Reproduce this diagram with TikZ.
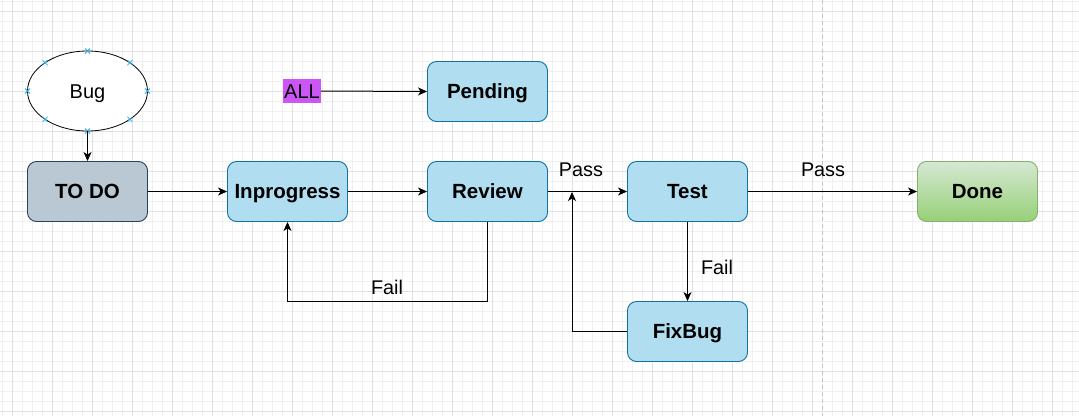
\documentclass[tikz,border=0pt]{standalone}
\usepackage{fontspec}
\setmainfont{Liberation Sans}
\usetikzlibrary{arrows.meta,shapes.geometric,calc}
\definecolor{gridminor}{HTML}{F0F0F0}
\definecolor{gridmajor}{HTML}{E0E0E0}
\definecolor{bluefill}{HTML}{B1DDF0}
\definecolor{bluedraw}{HTML}{10739E}
\definecolor{todofill}{HTML}{BAC8D3}
\definecolor{tododraw}{HTML}{23445D}
\definecolor{donetop}{HTML}{D5E8D4}
\definecolor{donebot}{HTML}{97D077}
\definecolor{donedraw}{HTML}{82B366}
\definecolor{allfill}{HTML}{CC55F5}
\definecolor{handle}{HTML}{29A8E8}
\definecolor{dashgray}{HTML}{C4C4C4}
\begin{document}
\begin{tikzpicture}[x=1pt,y=-1pt,
  lbl/.style={font=\fontsize{19.8}{23}\selectfont, inner sep=0pt},
  boxbase/.style={rounded corners=9pt, minimum width=120pt, minimum height=60pt,
    line width=0.9pt, font=\fontsize{20.5}{24}\selectfont\bfseries,
    text height=14.7pt, text depth=0pt, inner sep=0pt},
  bluebox/.style={boxbase, draw=bluedraw, fill=bluefill},
  todobox/.style={boxbase, draw=tododraw, fill=todofill},
  donebox/.style={boxbase, draw=donedraw, top color=donetop, bottom color=donebot},
  arr/.style={line width=1pt, -{Stealth[length=9pt,width=8pt,inset=2.5pt]}},
  hmark/.style={draw=handle, line width=0.8pt}
]
\useasboundingbox (0,0) rectangle (1079,416);
\fill[white] (0,0) rectangle (1079,416);
% grid
\foreach \x in {2,12,...,1072} \draw[gridminor, line width=0.8pt] (\x,0) -- (\x,416);
\foreach \y in {1,11,...,411} \draw[gridminor, line width=0.8pt] (0,\y) -- (1079,\y);
\foreach \x in {12,52,...,1052} \draw[gridmajor, line width=0.9pt] (\x,0) -- (\x,416);
\foreach \y in {11,51,...,411} \draw[gridmajor, line width=0.9pt] (0,\y) -- (1079,\y);
\draw[dashgray, line width=0.9pt, dash pattern=on 4pt off 3pt] (822,0) -- (822,416);

% nodes
\node[ellipse, draw=black, fill=white, line width=0.8pt, minimum width=120pt, minimum height=80pt,
  inner sep=0pt, font=\fontsize{20}{24}\selectfont, text height=14.3pt, text depth=0pt] (bug) at (87.5,91) {Bug};
\foreach \a in {0,45,...,315}
  \draw[hmark] ($(87.5,91)+({60*cos(\a)},{40*sin(\a)})+(-2.5,-2.5)$) -- ++(5,5)
               ($(87.5,91)+({60*cos(\a)},{40*sin(\a)})+(-2.5,2.5)$) -- ++(5,-5);
\node[todobox] (todo) at (87.5,191.5) {TO DO};
\node[bluebox] (inprog) at (287.5,191.5) {Inprogress};
\node[bluebox] (review) at (487.5,191.5) {Review};
\node[bluebox] (pending) at (487.5,91.5) {Pending};
\node[bluebox] (test) at (687.5,191.5) {Test};
\node[bluebox] (fixbug) at (687.5,331.5) {FixBug};
\node[donebox] (done) at (977.5,191.5) {Done};
\node[fill=allfill, inner xsep=1pt, inner ysep=0pt, minimum height=24pt,
  font=\fontsize{20}{24}\selectfont, text height=14.3pt, text depth=0pt] (all) at (302,91) {ALL};

% edges
\draw[arr] (bug.south) -- (todo.north);
\draw[arr] (todo.east) -- (inprog.west);
\draw[arr] (inprog.east) -- (review.west);
\draw[arr] (all.east) -- (pending.west);
\draw[arr] (review.east) -- (test.west);
\draw[arr] (test.east) -- (done.west);
\draw[arr] (review.south) -- ++(0,80) -| (inprog.south);
\draw[arr] (test.south) -- (fixbug.north);
\coordinate (join) at (572,192);
\draw[arr] (fixbug.west) -| (join);

% labels
\node[lbl] (pass1) at (581,170) {Pass};
\node[lbl] (pass2) at (823,170) {Pass};
\node[lbl] (fail1) at (387,287) {Fail};
\node[lbl] (fail2) at (717,267) {Fail};
\end{tikzpicture}
\end{document}
